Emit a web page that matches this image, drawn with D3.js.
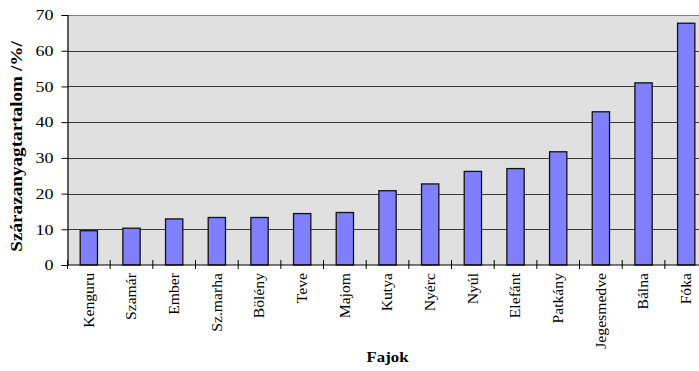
<!DOCTYPE html>
<html>
<head>
<meta charset="utf-8">
<script src="https://cdn.jsdelivr.net/npm/d3@7/dist/d3.min.js"></script>
<style>
html,body{margin:0;padding:0;background:#fff;overflow:hidden;}
svg{display:block;}
text{font-family:"Liberation Serif","Times New Roman","DejaVu Serif",serif;}
</style>
</head>
<body>
<svg id="chart" width="699" height="371"></svg>
<script>
const categories = ["Kenguru","Szamár","Ember","Sz.marha","Bölény","Teve","Majom","Kutya","Nyérc","Nyúl","Elefánt","Patkány","Jegesmedve","Bálna","Fóka"];
const values = [9.6, 10.3, 12.9, 13.3, 13.3, 14.4, 14.7, 20.8, 22.7, 26.2, 27.0, 31.7, 42.9, 51.0, 67.7];
const yTicks = [0, 10, 20, 30, 40, 50, 60, 70];
const yTitle = "Szárazanyagtartalom /%/";
const xTitle = "Fajok";

const FONT = "Liberation Serif, Times New Roman, DejaVu Serif, serif";
const svg = d3.select("#chart");
const pLeft = 67.5, pTop = 15, pBottom = 265, n = categories.length, step = 42.67;
const pRight = pLeft + n * step;

const x = d3.scaleBand().domain(categories).range([pLeft, pRight]).paddingInner(0.595).paddingOuter(0.2975);
const y = d3.scaleLinear().domain([0, 70]).range([pBottom, pTop]);

// plot background
svg.append("rect").attr("x", pLeft).attr("y", pTop).attr("width", pRight - pLeft).attr("height", pBottom - pTop).attr("fill", "#e0e0e0");

// gridlines
svg.append("g").selectAll("line").data(yTicks.filter(t => t > 0 && t < 70)).join("line")
  .attr("x1", pLeft).attr("x2", pRight)
  .attr("y1", d => Math.round(y(d)) + 0.5).attr("y2", d => Math.round(y(d)) + 0.5)
  .attr("stroke", "#3a3a3a").attr("stroke-width", 1);
// top border
svg.append("line").attr("x1", pLeft).attr("x2", pRight).attr("y1", pTop + 0.5).attr("y2", pTop + 0.5)
  .attr("stroke", "#808080").attr("stroke-width", 1);

// bars
svg.append("g").selectAll("rect").data(categories).join("rect")
  .attr("x", d => x(d)).attr("width", x.bandwidth())
  .attr("y", (d, i) => y(values[i])).attr("height", (d, i) => pBottom - y(values[i]))
  .attr("fill", "#8080ff").attr("stroke", "#111").attr("stroke-width", 1.3);

// y axis
const yAxis = d3.axisLeft(y).tickValues(yTicks).tickSize(6).tickPadding(8);
const gy = svg.append("g").attr("transform", `translate(${pLeft},0)`).call(yAxis);
gy.attr("font-family", FONT);
gy.select(".domain").attr("stroke", "#000").attr("stroke-width", 1.2);
gy.selectAll(".tick line").attr("stroke", "#000");
gy.selectAll(".tick text")
  .attr("font-family", FONT).attr("font-size", 15).attr("fill", "#000")
  .attr("x", -14 / 1.2).attr("transform", "scale(1.2,1)");

// x axis line
svg.append("line").attr("x1", pLeft).attr("x2", pRight).attr("y1", pBottom).attr("y2", pBottom).attr("stroke", "#000").attr("stroke-width", 1.2);
// x ticks at boundaries
svg.append("g").selectAll("line").data(d3.range(n + 1)).join("line")
  .attr("x1", i => pLeft + i * step).attr("x2", i => pLeft + i * step)
  .attr("y1", pBottom - 5).attr("y2", pBottom + 4)
  .attr("stroke", "#000").attr("stroke-width", 1);

// x labels
svg.append("g").selectAll("text").data(categories).join("text")
  .attr("transform", d => `translate(${x(d) + x.bandwidth() / 2},273) rotate(-90) scale(1.12,1)`)
  .attr("text-anchor", "end").attr("dy", "0.35em")
  .attr("font-family", FONT).attr("font-size", 14).attr("fill", "#000")
  .text(d => d);

// titles
svg.append("text").attr("transform", `translate(16,${(35 + 258) / 2}) rotate(-90) scale(1.2,1)`)
  .attr("text-anchor", "middle").attr("dy", "0.35em")
  .attr("font-family", FONT).attr("font-size", 16).attr("font-weight", "bold").text(yTitle);
svg.append("text").attr("transform", `translate(${(pLeft + pRight) / 2},362) scale(1.08,1)`)
  .attr("text-anchor", "middle").attr("font-family", FONT).attr("font-size", 15.5).attr("font-weight", "bold").text(xTitle);
</script>
</body>
</html>
